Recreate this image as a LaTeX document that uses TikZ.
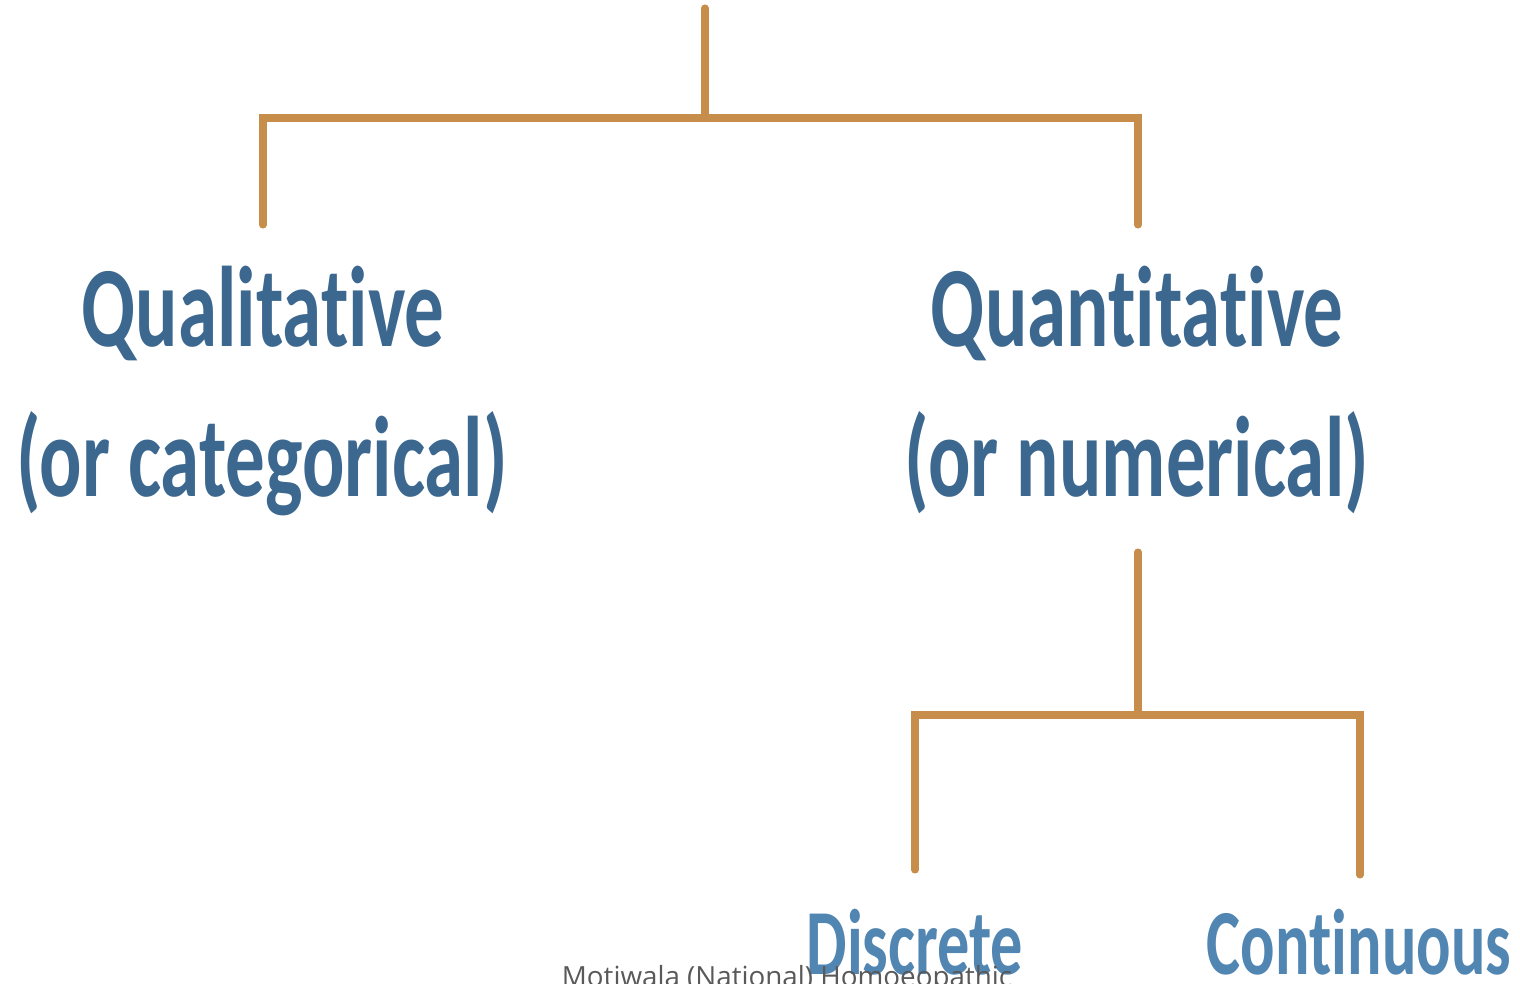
\documentclass[tikz,border=0pt]{standalone}
\usepackage{fontspec}
\setmainfont{Carlito}[Ligatures=NoCommon]
\newfontfamily\footfont{Open Sans}
\definecolor{linebrown}{HTML}{C68D4B}
\definecolor{catblue}{HTML}{3C6890}
\definecolor{subblue}{HTML}{5286B2}

\begin{document}
\begin{tikzpicture}[line cap=round,
  branch/.style={draw=linebrown,line width=2pt},
  head/.style={anchor=base,inner sep=0pt,text=catblue,xscale=0.69,transform shape,
    font=\fontsize{32.6}{36}\selectfont\bfseries},
  leaf/.style={anchor=base,inner sep=0pt,text=subblue,xscale=0.69,transform shape,
    font=\fontsize{26.5}{30}\selectfont\bfseries}]
  \useasboundingbox (0,0) rectangle (15.2,9.84);
  % first split
  \node[head] (qual) at (2.63,6.37){Qualitative};
  \node[head] (qualsub) at (2.62,4.87){(or categorical)};
  \node[head] (quan) at (11.37,6.37){Quantitative};
  \node[head] (quansub) at (11.37,4.87){(or numerical)};
  \coordinate (top) at (7.05,9.76);
  \coordinate (split) at (7.05,8.66);
  \coordinate (qualend) at (2.63,7.59);
  \coordinate (quanend) at (11.38,7.59);
  \draw[branch] (top) -- (split);
  \draw[branch] (qualend) |- (split) -| (quanend);
  % second split
  \node[leaf] (disc) at (9.15,0.09){Discrete};
  \node[leaf] (cont) at (13.59,0.09){Continuous};
  \coordinate (quanfoot) at (11.38,4.32);
  \coordinate (subsplit) at (11.38,2.69);
  \coordinate (discend) at (9.15,1.14);
  \coordinate (contend) at (13.60,1.09);
  \draw[branch] (quanfoot) -- (subsplit);
  \draw[branch] (discend) |- (subsplit) -| (contend);
  % footer
  \node[anchor=base,inner sep=0pt,text=black!65,font=\footfont\fontsize{7.9}{9}\selectfont]
    (foot) at (7.87,-0.03){Motiwala (National) Homoeopathic};
\end{tikzpicture}
\end{document}
